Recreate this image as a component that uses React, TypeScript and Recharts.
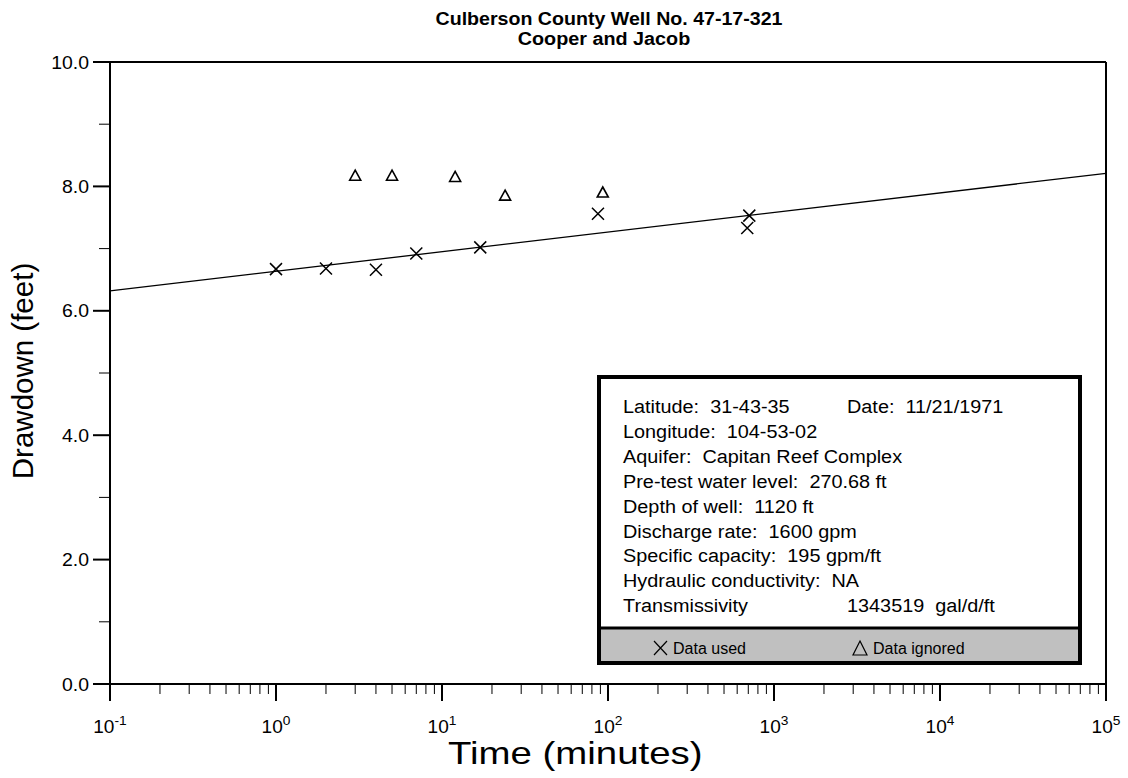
import React from 'react';
import { ScatterChart, Scatter, XAxis, YAxis, ReferenceLine, Customized } from 'recharts';

// ---- data ----
const usedTime = [1, 2, 4, 7, 17, 87, 710, 690];
const usedDrawdown = [6.67, 6.68, 6.66, 6.92, 7.02, 7.56, 7.53, 7.33];
const ignoredTime = [3, 5, 12, 24, 93];
const ignoredDrawdown = [8.18, 8.18, 8.16, 7.86, 7.91];
const fitTime = [0.1, 100000];
const fitDrawdown = [6.32, 8.21];
const xDecades = [0.1, 1, 10, 100, 1000, 10000, 100000];
const xMinorSteps = [2, 3, 4, 5, 6, 7, 8, 9];
const yTicks = [0, 1, 2, 3, 4, 5, 6, 7, 8, 9, 10];
const yMajorTicks = [0, 2, 4, 6, 8, 10];
const titleLines = ['Culberson County Well No. 47-17-321', 'Cooper and Jacob'];
const infoLines = [
  'Latitude:  31-43-35',
  'Longitude:  104-53-02',
  'Aquifer:  Capitan Reef Complex',
  'Pre-test water level:  270.68 ft',
  'Depth of well:  1120 ft',
  'Discharge rate:  1600 gpm',
  'Specific capacity:  195 gpm/ft',
  'Hydraulic conductivity:  NA',
  'Transmissivity',
];
const infoRight = [
  { line: 0, text: 'Date:  11/21/1971' },
  { line: 8, text: '1343519  gal/d/ft' },
];

const usedData = usedTime.map((t, i) => ({ x: t, y: usedDrawdown[i] }));
const ignoredData = ignoredTime.map((t, i) => ({ x: t, y: ignoredDrawdown[i] }));
const xTicks: number[] = [];
xDecades.forEach((d, i) => {
  xTicks.push(d);
  if (i < xDecades.length - 1) xMinorSteps.forEach((m) => xTicks.push(d * m));
});

const FONT = '"Liberation Sans", Arial, Helvetica, sans-serif';

// horizontally stretched text (the reference glyphs are a bit wider than Arial's)
const SText = (props: any) => {
  const { x, y, sx = 1, anchor = 'start', children, ...rest } = props;
  return (
    <text
      transform={`translate(${x},${y}) scale(${sx},1)`}
      x={0}
      y={0}
      textAnchor={anchor}
      fontFamily={FONT}
      fill="#000"
      style={{ whiteSpace: 'pre' }}
      {...rest}
    >
      {children}
    </text>
  );
};

const CrossShape = (props: any) => {
  const { cx, cy } = props;
  const s = 6;
  return (
    <path
      d={`M${cx - s},${cy - s}L${cx + s},${cy + s}M${cx - s},${cy + s}L${cx + s},${cy - s}`}
      stroke="#000"
      strokeWidth={1.5}
      fill="none"
    />
  );
};

const TriShape = (props: any) => {
  const { cx, cy } = props;
  const w = 5.5;
  const h = 5;
  return (
    <path
      d={`M${cx},${cy - h}L${cx + w},${cy + h}L${cx - w},${cy + h}Z`}
      stroke="#000"
      strokeWidth={1.6}
      fill="none"
    />
  );
};

const XTick = (props: any) => {
  const { x, y, payload } = props;
  const v = payload.value;
  const e = Math.log10(v);
  const major = Math.abs(e - Math.round(e)) < 1e-6;
  return (
    <g>
      <line x1={x} x2={x} y1={y} y2={y + (major ? 17 : 10)} stroke="#000" strokeWidth={major ? 2 : 1} />
      {major && (
        <SText x={x} y={y + 49} sx={1.06} anchor="middle" fontSize={18}>
          10
          <tspan dy={-8} fontSize={13}>
            {Math.round(e)}
          </tspan>
        </SText>
      )}
    </g>
  );
};

const YTick = (props: any) => {
  const { x, y, payload } = props;
  const v = payload.value;
  const major = yMajorTicks.includes(v);
  return (
    <g>
      <line x1={x - (major ? 17 : 11)} x2={x} y1={y} y2={y} stroke="#000" strokeWidth={major ? 2 : 1} />
      {major && (
        <SText x={x - 21} y={y + 6.5} sx={1.08} anchor="end" fontSize={18}>
          {v.toFixed(1)}
        </SText>
      )}
    </g>
  );
};

const Overlay = () => (
  <g>
    <SText x={609} y={25} sx={1.06} anchor="middle" fontSize={18.5} fontWeight="bold">
      {titleLines[0]}
    </SText>
    <SText x={604} y={45} sx={1.07} anchor="middle" fontSize={18.5} fontWeight="bold">
      {titleLines[1]}
    </SText>
    <SText x={448} y={764} sx={1.2} anchor="start" fontSize={32}>
      Time (minutes)
    </SText>
    <text
      x={33}
      y={371}
      transform="rotate(-90, 33, 371)"
      textAnchor="middle"
      fontFamily={FONT}
      fill="#000"
      fontSize={29.5}
    >
      Drawdown (feet)
    </text>
    {/* info box */}
    <rect x={599} y={377} width={481} height={286} fill="#fff" stroke="#000" strokeWidth={4} />
    <rect x={601} y={629} width={477} height={32} fill="#c0c0c0" />
    <line x1={599} x2={1080} y1={628} y2={628} stroke="#000" strokeWidth={3} />
    {infoLines.map((t, i) => (
      <SText key={i} x={623} y={413 + i * 24.9} sx={1.045} fontSize={19}>
        {t}
      </SText>
    ))}
    {infoRight.map((r, i) => (
      <SText key={'r' + i} x={847} y={413 + r.line * 24.9} sx={1.045} fontSize={19}>
        {r.text}
      </SText>
    ))}
    <path d="M654,641L667,655M654,655L667,641" stroke="#000" strokeWidth={1.2} fill="none" />
    <SText x={673} y={654} fontSize={16}>
      Data used
    </SText>
    <path d="M860,641L867,655L853,655Z" stroke="#000" strokeWidth={1.2} fill="none" />
    <SText x={873} y={654} fontSize={16}>
      Data ignored
    </SText>
  </g>
);

export default function App() {
  return (
    <div style={{ position: 'absolute', left: 0, top: 0, width: 1128, height: 778, background: '#fff' }}>
      <ScatterChart width={1128} height={778} margin={{ top: 62, right: 22, bottom: 0, left: 0 }}>
        <XAxis
          dataKey="x"
          type="number"
          scale="log"
          domain={[0.1, 100000]}
          allowDataOverflow
          ticks={xTicks}
          interval={0}
          tick={<XTick />}
          tickLine={false}
          tickSize={0}
          tickMargin={0}
          height={94}
          axisLine={{ stroke: '#000', strokeWidth: 2 }}
        />
        <YAxis
          dataKey="y"
          type="number"
          domain={[0, 10]}
          ticks={yTicks}
          interval={0}
          tick={<YTick />}
          tickLine={false}
          tickSize={0}
          tickMargin={0}
          width={110}
          axisLine={{ stroke: '#000', strokeWidth: 2 }}
        />
        <ReferenceLine y={10} stroke="#000" strokeWidth={2} />
        <ReferenceLine x={100000} stroke="#000" strokeWidth={2} />
        <ReferenceLine
          segment={[
            { x: fitTime[0], y: fitDrawdown[0] },
            { x: fitTime[1], y: fitDrawdown[1] },
          ]}
          stroke="#000"
          strokeWidth={1.3}
        />
        <Scatter data={usedData} shape={<CrossShape />} isAnimationActive={false} />
        <Scatter data={ignoredData} shape={<TriShape />} isAnimationActive={false} />
        <Customized component={Overlay} />
      </ScatterChart>
    </div>
  );
}
